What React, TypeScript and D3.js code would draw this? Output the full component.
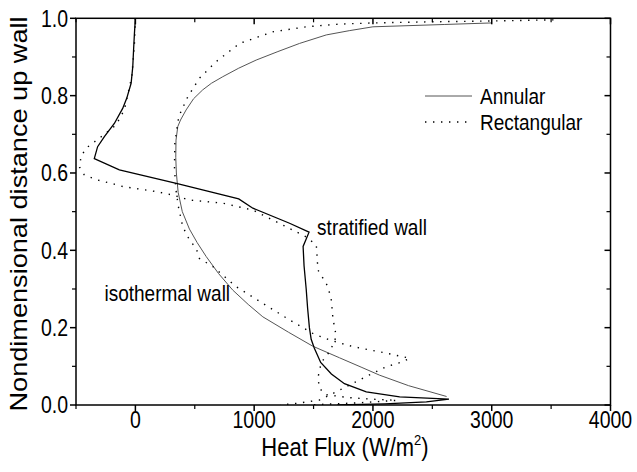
import React from "react";
import * as d3 from "d3";

// Heat flux profiles along the wall: [heat flux W/m², nondimensional height]
const annularIsothermal: [number, number][] = [
  [3000, 0.988], [2600, 0.984], [2000, 0.978], [1800, 0.968], [1607, 0.957], [1382, 0.935],
  [1200, 0.914], [1017, 0.892], [870, 0.871], [736, 0.849], [640, 0.832], [567, 0.815],
  [490, 0.792], [427, 0.763], [380, 0.737], [357, 0.72], [342, 0.685], [340, 0.64],
  [345, 0.6], [360, 0.55], [395, 0.5], [455, 0.455], [520, 0.42], [596, 0.384],
  [700, 0.34], [820, 0.297], [950, 0.26], [1073, 0.228], [1290, 0.188], [1494, 0.152],
  [1719, 0.122], [1900, 0.098], [2057, 0.077], [2300, 0.05], [2620, 0.022],
];

const annularStratified: [number, number][] = [
  [0, 1.0], [-8, 0.961], [-15, 0.92], [-22, 0.875], [-36, 0.832], [-73, 0.793],
  [-107, 0.767], [-177, 0.728], [-261, 0.694], [-318, 0.668], [-346, 0.637],
  [-135, 0.608], [345, 0.573], [870, 0.533], [989, 0.509], [1298, 0.47], [1462, 0.447],
  [1412, 0.41], [1420, 0.36], [1438, 0.3], [1450, 0.25], [1465, 0.2], [1480, 0.17],
  [1505, 0.148], [1560, 0.11], [1650, 0.08], [1760, 0.055], [1944, 0.034],
  [2225, 0.021], [2640, 0.015], [2450, 0.008], [2100, 0.003], [1700, 0.0],
];

const rectIsothermal: [number, number][] = [
  [3520, 0.996], [3000, 0.993], [2500, 0.991], [2000, 0.988], [1719, 0.985], [1438, 0.978],
  [1157, 0.965], [877, 0.935], [680, 0.888], [539, 0.845], [441, 0.797], [365, 0.746],
  [332, 0.677], [329, 0.616], [340, 0.56], [362, 0.513], [399, 0.461], [455, 0.427],
  [512, 0.405], [539, 0.379], [652, 0.358], [848, 0.306], [1073, 0.263], [1298, 0.22],
  [1494, 0.185], [1635, 0.168], [1831, 0.151], [2113, 0.134], [2309, 0.121],
  [2253, 0.112], [2113, 0.099], [1972, 0.078], [1831, 0.056], [1691, 0.034],
  [1551, 0.013], [1380, 0.005], [1220, 0.0],
];

const rectStratified: [number, number][] = [
  [0, 1.0], [-8, 0.935], [-30, 0.85], [-93, 0.763], [-163, 0.724], [-303, 0.69],
  [-416, 0.664], [-458, 0.642], [-470, 0.615], [-430, 0.595], [-320, 0.582],
  [-177, 0.571], [-107, 0.565], [174, 0.552], [315, 0.543], [455, 0.53], [736, 0.522],
  [989, 0.504], [1270, 0.461], [1430, 0.436], [1523, 0.414], [1537, 0.349],
  [1579, 0.328], [1621, 0.306], [1649, 0.272], [1663, 0.224], [1691, 0.177],
  [1640, 0.14], [1565, 0.11], [1540, 0.075], [1545, 0.045], [1600, 0.027],
  [1800, 0.019], [2000, 0.015], [2200, 0.012], [1900, 0.006], [1600, 0.002], [1450, 0.0],
];

const xMajorTicks = [0, 1000, 2000, 3000, 4000];
const xMinorTicks = [-500, 500, 1500, 2500, 3500];
const yMajorTicks = [0, 0.2, 0.4, 0.6, 0.8, 1.0];
const yMinorTicks = [0.1, 0.3, 0.5, 0.7, 0.9];

const legendLabels = ["Annular", "Rectangular"];
const annotations = [
  { text: "stratified wall", x: 1530, y: 0.46 },
  { text: "isothermal wall", x: -260, y: 0.29 },
];

const W = 637;
const H = 472;
const left = 76;
const right = 610.5;
const top = 18.3;
const bottom = 405;
const font = "'Liberation Sans', Arial, Helvetica, sans-serif";
// glyphs in this figure are drawn a little taller than wide
const stretch = 1.18;

function Label(props: {
  x: number;
  y: number;
  size: number;
  anchor?: "start" | "middle" | "end";
  children: React.ReactNode;
}) {
  return (
    <text
      transform={`translate(${props.x},${props.y}) scale(1,${stretch})`}
      fontSize={props.size}
      textAnchor={props.anchor ?? "start"}
      fill="#000"
    >
      {props.children}
    </text>
  );
}

export default function App() {
  const x = d3.scaleLinear().domain([-500, 4000]).range([left, right]);
  const y = d3.scaleLinear().domain([0, 1]).range([bottom, top]);
  const line = d3
    .line<[number, number]>()
    .x((d) => x(d[0]))
    .y((d) => y(d[1]));

  const major = 6;
  const minor = 4;
  const dotted = "1.4 6.6";

  return (
    <svg
      width={W}
      height={H}
      style={{ position: "absolute", left: 0, top: 0, background: "#fff" }}
      fontFamily={font}
    >
      <defs>
        <clipPath id="plot">
          <rect x={left} y={top - 2} width={right - left} height={bottom - top + 2} />
        </clipPath>
      </defs>
      <rect x={0} y={0} width={W} height={H} fill="#fff" />

      <g clipPath="url(#plot)" fill="none">
        <path d={line(annularIsothermal) ?? ""} stroke="#555" strokeWidth={1} />
        <path d={line(rectIsothermal) ?? ""} stroke="#000" strokeWidth={1.4} strokeDasharray={dotted} />
        <path d={line(rectStratified) ?? ""} stroke="#000" strokeWidth={1.4} strokeDasharray={dotted} />
        <path d={line(annularStratified) ?? ""} stroke="#000" strokeWidth={1.3} />
      </g>

      {/* frame */}
      <rect x={left} y={top} width={right - left} height={bottom - top} fill="none" stroke="#000" strokeWidth={1.5} />

      {/* x ticks: outward at bottom, inward at top */}
      {xMajorTicks.map((t) => (
        <g key={"xM" + t}>
          <line x1={x(t)} x2={x(t)} y1={bottom} y2={bottom + major} stroke="#000" strokeWidth={1.5} />
          <line x1={x(t)} x2={x(t)} y1={top} y2={top + major} stroke="#000" strokeWidth={1.5} />
          <Label x={x(t)} y={bottom + 23} size={19.5} anchor="middle">
            {t}
          </Label>
        </g>
      ))}
      {xMinorTicks.map((t) => (
        <g key={"xm" + t}>
          <line x1={x(t)} x2={x(t)} y1={bottom} y2={bottom + minor} stroke="#000" strokeWidth={1.2} />
          <line x1={x(t)} x2={x(t)} y1={top} y2={top + minor} stroke="#000" strokeWidth={1.2} />
        </g>
      ))}

      {/* y ticks: outward at left, inward at right */}
      {yMajorTicks.map((t) => (
        <g key={"yM" + t}>
          <line x1={left - major} x2={left} y1={y(t)} y2={y(t)} stroke="#000" strokeWidth={1.5} />
          <line x1={right - major} x2={right} y1={y(t)} y2={y(t)} stroke="#000" strokeWidth={1.5} />
          <Label x={left - 8} y={y(t) + 8.2} size={19.5} anchor="end">
            {t.toFixed(1)}
          </Label>
        </g>
      ))}
      {yMinorTicks.map((t) => (
        <g key={"ym" + t}>
          <line x1={left - minor} x2={left} y1={y(t)} y2={y(t)} stroke="#000" strokeWidth={1.2} />
          <line x1={right - minor} x2={right} y1={y(t)} y2={y(t)} stroke="#000" strokeWidth={1.2} />
        </g>
      ))}

      {/* axis titles */}
      <Label x={345} y={456} size={22} anchor="middle">
        Heat Flux (W/m
        <tspan fontSize={13} dy={-9}>2</tspan>
        <tspan dy={9}>)</tspan>
      </Label>
      <text
        transform={`translate(27, 214) rotate(-90) scale(${stretch},1)`}
        fontSize={23}
        textAnchor="middle"
        fill="#000"
      >
        Nondimensional distance up wall
      </text>

      {/* annotations */}
      {annotations.map((a) => (
        <Label key={a.text} x={x(a.x)} y={y(a.y) + 8} size={19}>
          {a.text}
        </Label>
      ))}

      {/* legend */}
      <g>
        <line x1={425} x2={472} y1={96} y2={96} stroke="#555" strokeWidth={1} />
        <Label x={480} y={104} size={19}>
          {legendLabels[0]}
        </Label>
        <line x1={425} x2={472} y1={122} y2={122} stroke="#000" strokeWidth={1.4} strokeDasharray={dotted} />
        <Label x={480} y={130} size={19}>
          {legendLabels[1]}
        </Label>
      </g>
    </svg>
  );
}
